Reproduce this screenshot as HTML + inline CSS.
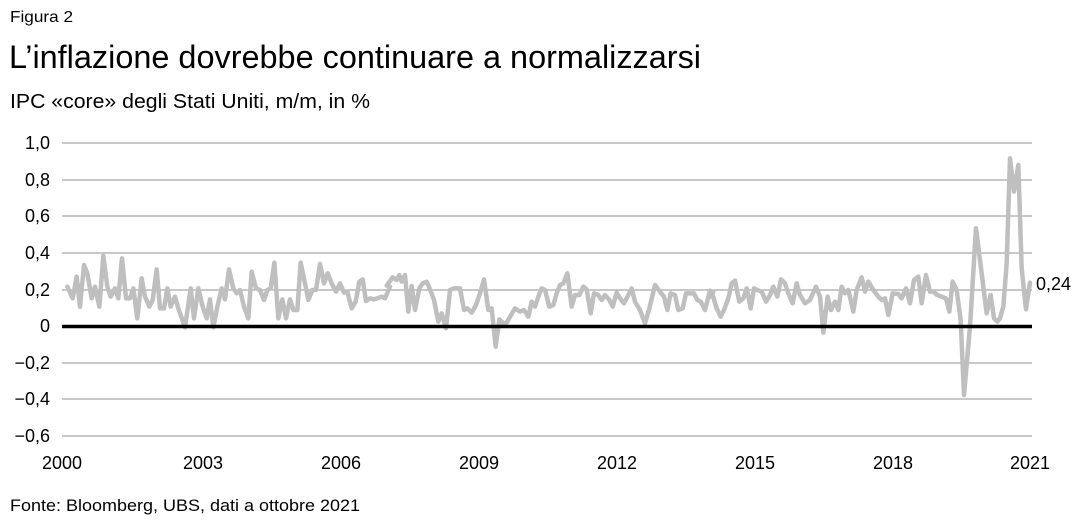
<!DOCTYPE html>
<html><head><meta charset="utf-8"><style>
body{margin:0;background:#fff;width:1082px;height:524px;overflow:hidden;font-family:"Liberation Sans",sans-serif;color:#000}
</style></head><body>
<svg width="1082" height="524" xmlns="http://www.w3.org/2000/svg" font-family="Liberation Sans, sans-serif">
<text x="10" y="22" font-size="16" textLength="63" lengthAdjust="spacingAndGlyphs">Figura 2</text>
<text x="9" y="68" font-size="32" textLength="692" lengthAdjust="spacingAndGlyphs">L’inflazione dovrebbe continuare a normalizzarsi</text>
<text x="10" y="108" font-size="20" textLength="360" lengthAdjust="spacingAndGlyphs">IPC «core» degli Stati Uniti, m/m, in %</text>
<g stroke="#a6a6a6" stroke-width="1.3">
<line x1="62" x2="1032" y1="143" y2="143"/><line x1="62" x2="1032" y1="180" y2="180"/>
<line x1="62" x2="1032" y1="216" y2="216"/><line x1="62" x2="1032" y1="253" y2="253"/>
<line x1="62" x2="1032" y1="290" y2="290"/><line x1="62" x2="1032" y1="363" y2="363"/>
<line x1="62" x2="1032" y1="399" y2="399"/><line x1="62" x2="1032" y1="436" y2="436"/>
</g>
<g font-size="18" text-anchor="end">
<text x="50" y="149">1,0</text><text x="50" y="186">0,8</text><text x="50" y="222">0,6</text>
<text x="50" y="259">0,4</text><text x="50" y="296">0,2</text><text x="50" y="332">0</text>
<text x="50" y="369">−0,2</text><text x="50" y="405">−0,4</text><text x="50" y="442">−0,6</text>
</g>
<g font-size="18" text-anchor="middle">
<text x="62" y="469">2000</text><text x="203" y="469">2003</text><text x="341" y="469">2006</text>
<text x="479" y="469">2009</text><text x="617" y="469">2012</text><text x="755" y="469">2015</text>
<text x="893" y="469">2018</text><text x="1030" y="469">2021</text>
</g>
<g fill="none" stroke="#bfbfbf" stroke-width="4.5" stroke-linejoin="round" stroke-linecap="round">
<polyline vector-effect="non-scaling-stroke" transform="translate(60,240) scale(0.33333)" points="22,140 38,175 50,110 60,200 72,75 82,100 95,175 105,140 118,200 130,48 142,140 152,170 165,145 175,175 186,55 198,175 210,175 220,145 232,235 245,115 255,170 268,200 278,180 290,88 300,205 312,205 322,145 332,200 345,170 355,205 375,262 392,145 402,235 415,145 428,200 440,235 450,178 460,262 472,200 485,145 495,178 507,88 520,145 530,160 540,150 552,200 565,235 575,95 588,145 600,150 612,180 622,150 632,145 643,68 655,235 667,178 678,235 690,178 700,210 712,210 722,68 735,130 745,180 757,150 768,150 780,72 792,130 803,100 815,130 828,155 840,130 852,158 862,155 875,205 887,185 898,125 908,118 918,183 930,175 942,178 952,175 965,170 975,175 990,140"/>
<polyline vector-effect="non-scaling-stroke" transform="translate(380,240) scale(0.33333)" points="20,137 25,130 38,112 50,120 58,105 65,125 75,105 85,215 95,138 105,210 118,145 128,130 140,125 150,148 162,180 175,245 185,220 198,265 210,150 222,145 240,145 252,210 262,205 275,218 288,195 300,160 312,118 325,210 335,205 347,320 358,238 370,250 380,248 395,222 405,205 420,215 432,210 445,230 455,185 465,200 475,170 485,145 495,150 508,200 520,195 530,160 540,135 550,130 562,100 575,200 585,165 598,165 610,140 620,148 632,220 642,160 655,165 665,180 675,165 688,180 698,200 710,158 720,175 732,190 745,165 755,145 765,185 780,210 795,250 808,205 825,135 840,155 852,170 862,210 872,160 885,165 895,210 908,205 918,160 932,160 942,160 952,180 962,185 975,210 990,152 1000,156"/>
<polyline vector-effect="non-scaling-stroke" transform="translate(700,140) scale(0.33333)" points="30,470 38,465 50,505 62,530 72,510 85,475 95,430 105,422 118,485 130,475 140,445 152,505 162,445 172,450 185,455 198,485 210,465 220,440 232,470 243,418 255,430 265,460 278,490 290,430 300,465 315,490 330,480 348,440 360,470 370,578 383,470 393,510 405,485 415,510 425,440 435,460 445,450 460,515 470,450 485,412 495,455 505,425 520,450 535,470 545,480 555,475 565,525 578,460 595,462 605,475 618,445 630,490 642,420 655,410 665,490 678,405 690,455 700,455 712,465 725,470 738,475 748,515 758,425 770,450 782,540 792,765 810,560 828,265 840,360 850,440 860,520 872,465 882,535 892,545 900,535 910,500 920,370 930,55 942,155 955,75 965,385 978,508 990,428"/>
</g>
<line x1="62" x2="1032" y1="326.5" y2="326.5" stroke="#000" stroke-width="3.5"/>
<text x="1036" y="290" font-size="18">0,24</text>
<text x="10" y="511" font-size="17" textLength="350" lengthAdjust="spacingAndGlyphs">Fonte: Bloomberg, UBS, dati a ottobre 2021</text>
</svg>
</body></html>
